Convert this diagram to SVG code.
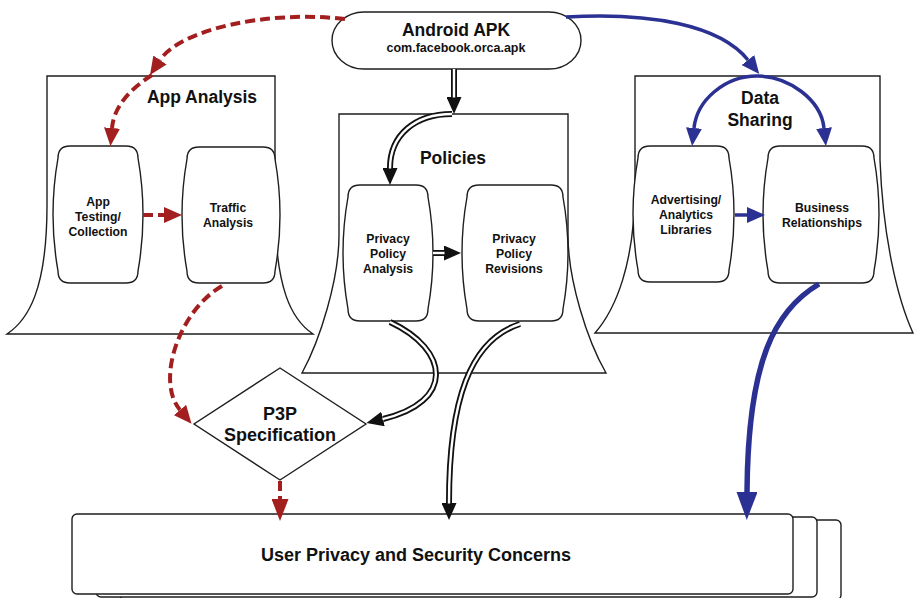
<svg xmlns="http://www.w3.org/2000/svg" width="915" height="598" viewBox="0 0 915 598">
<style>
.shape{fill:#fff;stroke:#1e1e1e;stroke-width:1.4}
.t{font-family:"Liberation Sans",Arial,sans-serif;font-weight:bold;fill:#111;text-anchor:middle}
.title{font-size:17.5px}
.lbl{font-size:12.2px}
.red{fill:none;stroke:#a31f1f;stroke-width:4;stroke-dasharray:10 5}
.blue{fill:none;stroke:#2b3192;stroke-width:3.5}
.blueT{fill:none;stroke:#2b3192;stroke-width:5.5}
.hollowO{fill:none;stroke:#111;stroke-width:6}
.hollowI{fill:none;stroke:#fff;stroke-width:2.4}
</style>
<defs>
<marker id="hRed" markerUnits="userSpaceOnUse" markerWidth="18" markerHeight="16" viewBox="0 0 18 16" refX="0" refY="8" orient="auto"><path d="M0,0 L18,8 L0,16 Z" fill="#a31f1f"/></marker>
<marker id="hRedL" markerUnits="userSpaceOnUse" markerWidth="22" markerHeight="17" viewBox="0 0 22 17" refX="0" refY="8.5" orient="auto"><path d="M0,0 L22,8.5 L0,17 Z" fill="#a31f1f"/></marker>
<marker id="hBlk" markerUnits="userSpaceOnUse" markerWidth="17" markerHeight="15" viewBox="0 0 17 15" refX="0" refY="7.5" orient="auto"><path d="M0,0 L17,7.5 L0,15 Z" fill="#111"/></marker>
<marker id="hBlue" markerUnits="userSpaceOnUse" markerWidth="18" markerHeight="16" viewBox="0 0 18 16" refX="0" refY="8" orient="auto"><path d="M0,0 L18,8 L0,16 Z" fill="#2b3192"/></marker>
<marker id="hBlueL" markerUnits="userSpaceOnUse" markerWidth="28" markerHeight="21" viewBox="0 0 28 21" refX="0" refY="10.5" orient="auto"><path d="M0,0 L28,10.5 L0,21 Z" fill="#2b3192"/></marker>
</defs>

<g id="app-analysis">
<path class="shape" d="M47,76 H275 V205 C275,290 292,320 313,334 H7 C28,320 47,290 47,205 Z"/>
<text class="t title" x="202" y="103">App Analysis</text>
</g>
<g id="data-sharing">
<path class="shape" d="M635,76 H880 V160 C883,240 898,300 913,333 H595 C615,310 635,265 635,185 Z"/>
<text class="t title" x="760" y="103.5">Data</text>
<text class="t title" x="760" y="126">Sharing</text>
</g>
<g id="policies">
<path class="shape" d="M339,114 H568 V235 C568,280 587,340 606,373 H302 C320,340 339,280 339,235 Z"/>
<text class="t title" x="453" y="164">Policies</text>
</g>

<g id="concerns">
<rect class="shape" x="120" y="520" width="721" height="80" rx="5"/>
<rect class="shape" x="96" y="517" width="721" height="80" rx="5"/>
<rect class="shape" x="72" y="514" width="721" height="80" rx="5"/>
<text class="t" style="font-size:18px" x="416" y="561">User Privacy and Security Concerns</text>
</g>

<g id="apk">
<rect class="shape" x="332" y="12" width="249" height="57" rx="32" ry="28.5"/>
<text class="t title" x="456" y="36">Android APK</text>
<text class="t" style="font-size:12.5px" x="456" y="52">com.facebook.orca.apk</text>
</g>

<g id="app-testing">
<path class="shape" d="M70,146 H126 Q138,146 138,158 Q148,214.5 138,271 Q138,283 126,283 H70 Q58,283 58,271 Q48,214.5 58,158 Q58,146 70,146 Z"/>
<text class="t lbl" x="98" y="205.5">App</text>
<text class="t lbl" x="98" y="220.5">Testing/</text>
<text class="t lbl" x="98" y="235.5">Collection</text>
</g>
<g id="traffic-analysis">
<path class="shape" d="M199,147 H263 Q275,147 275,159 Q285,215 275,271 Q275,283 263,283 H199 Q187,283 187,271 Q177,215 187,159 Q187,147 199,147 Z"/>
<text class="t lbl" x="228" y="211.7">Traffic</text>
<text class="t lbl" x="228" y="226.7">Analysis</text>
</g>
<g id="pp-analysis">
<path class="shape" d="M360,185 H416 Q428,185 428,197 Q438,253 428,309 Q428,321 416,321 H360 Q348,321 348,309 Q338,253 348,197 Q348,185 360,185 Z"/>
<text class="t lbl" x="388" y="242.7">Privacy</text>
<text class="t lbl" x="388" y="258">Policy</text>
<text class="t lbl" x="388" y="273.3">Analysis</text>
</g>
<g id="pp-revisions">
<path class="shape" d="M479,185 H551 Q563,185 563,197 Q573,253 563,309 Q563,321 551,321 H479 Q467,321 467,309 Q457,253 467,197 Q467,185 479,185 Z"/>
<text class="t lbl" x="514" y="242.7">Privacy</text>
<text class="t lbl" x="514" y="258">Policy</text>
<text class="t lbl" x="514" y="273.3">Revisions</text>
</g>
<g id="ad-libraries">
<path class="shape" d="M650,146 H717 Q729,146 729,158 Q739,214 729,270 Q729,282 717,282 H650 Q638,282 638,270 Q628,214 638,158 Q638,146 650,146 Z"/>
<text class="t lbl" x="686" y="204">Advertising/</text>
<text class="t lbl" x="686" y="219.3">Analytics</text>
<text class="t lbl" x="686" y="234.3">Libraries</text>
</g>
<g id="business">
<path class="shape" d="M780,146 H862 Q874,146 874,158 Q884,214.5 874,271 Q874,283 862,283 H780 Q768,283 768,271 Q758,214.5 768,158 Q768,146 780,146 Z"/>
<text class="t lbl" x="822" y="211.7">Business</text>
<text class="t lbl" x="822" y="226.7">Relationships</text>
</g>
<g id="p3p">
<polygon class="shape" points="280,368 366,424 280,480 194,424"/>
<text class="t" style="font-size:18px" x="280" y="419.5">P3P</text>
<text class="t" style="font-size:18px" x="280" y="441">Specification</text>
</g>

<g id="connectors">
<path class="red" d="M345,19 C265,10 180,30 160,60" marker-end="url(#hRed)"/>
<path class="red" d="M152,75 C132,88 114,105 112,128" marker-end="url(#hRed)"/>
<path class="red" d="M143,215 L164,215" marker-end="url(#hRed)"/>
<path class="red" d="M222,286 C180,310 155,380 180,410" marker-end="url(#hRed)"/>
<path class="red" d="M280,481 L280,499" marker-end="url(#hRedL)"/>
<path class="blue" d="M566,17 C650,12 720,25 748,60" marker-end="url(#hBlue)"/>
<path class="blue" d="M757,76 C725,76 697,100 694,128" marker-end="url(#hBlue)"/>
<path class="blue" d="M757,76 C789,76 821,100 824,128" marker-end="url(#hBlue)"/>
<path class="blue" d="M735,215 L747,215" marker-end="url(#hBlue)"/>
<path class="blueT" d="M819,284 C775,310 748,360 747,492" marker-end="url(#hBlueL)"/>
<path class="hollowO" d="M454,69 L454,97" marker-end="url(#hBlk)"/>
<path class="hollowI" d="M454,69 L454,97.5"/>
<path class="hollowO" d="M452,114 C415,114 390,135 390,168" marker-end="url(#hBlk)"/>
<path class="hollowI" d="M452,114 C415,114 390,135 390,168.5"/>
<path class="hollowO" d="M433,253 L444,253" marker-end="url(#hBlk)"/>
<path class="hollowI" d="M433,253 L444.5,253"/>
<path class="hollowO" d="M390,322 C450,350 455,402 383,419" marker-end="url(#hBlk)"/>
<path class="hollowI" d="M390,322 C450,350 455,402 382.5,419.1"/>
<path class="hollowO" d="M520,324 C470,340 449,400 449,503" marker-end="url(#hBlk)"/>
<path class="hollowI" d="M520,324 C470,340 449,400 449,503.5"/>
</g>
</svg>
